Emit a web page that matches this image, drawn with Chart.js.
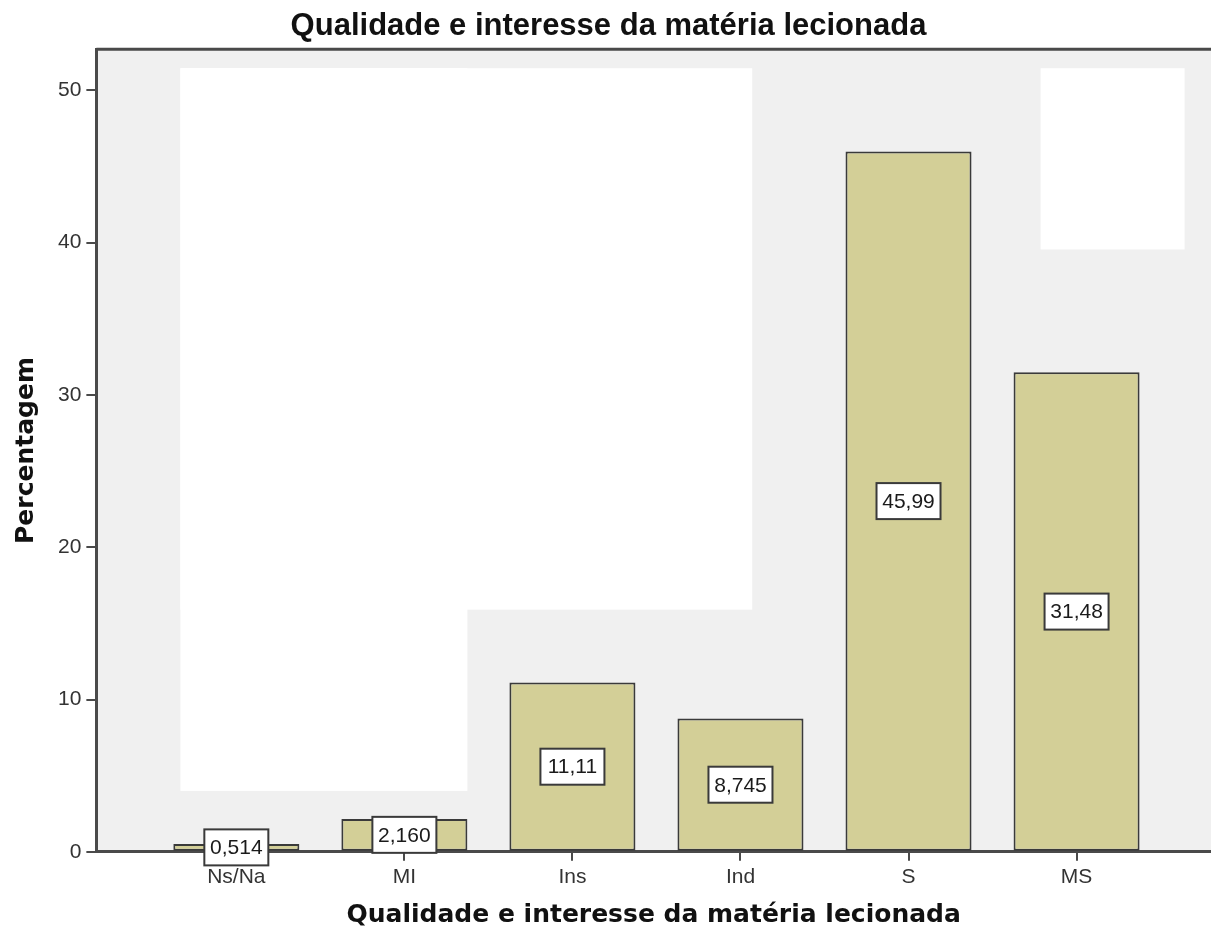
<!DOCTYPE html>
<html>
<head>
<meta charset="utf-8">
<script src="https://cdn.jsdelivr.net/npm/chart.js@4"></script>
<style>
  body { margin: 0; background: #fff; }
  #wrap { width: 1211px; height: 942px; }
</style>
</head>
<body>
<div id="wrap"><canvas id="chart"></canvas></div>
<script>
// --- Data ---
const categories = ['Ns/Na', 'MI', 'Ins', 'Ind', 'S', 'MS'];
const percentages = [0.514, 2.160, 11.11, 8.745, 45.99, 31.48];
const valueLabels = ['0,514', '2,160', '11,11', '8,745', '45,99', '31,48'];
const yTicks = [0, 10, 20, 30, 40, 50];

// white blank panels in the picture, in data units {x0, x1, y0, y1}
const blankPanels = [
    { x0: -0.333, x1: 3.07, y0: 15.9, y1: 51.45 },
    { x0: -0.333, x1: 1.375, y0: 4.0, y1: 51.45 },
    { x0: 4.786, x1: 5.643, y0: 39.55, y1: 51.45 }
];

const barFill = '#d3cf97';
const axisColor = '#4a4a4a';

// plot background, blank panels and top frame line
const backdropPlugin = {
    id: 'backdrop',
    beforeDraw(chart) {
        const { ctx, chartArea, scales } = chart;
        ctx.save();
        ctx.fillStyle = '#f0f0f0';
        ctx.fillRect(chartArea.left, chartArea.top, chartArea.right - chartArea.left, chartArea.bottom - chartArea.top);
        ctx.fillStyle = '#ffffff';
        blankPanels.forEach(p => {
            const x0 = scales.x.getPixelForValue(p.x0);
            const x1 = scales.x.getPixelForValue(p.x1);
            const y0 = scales.y.getPixelForValue(p.y0);
            const y1 = scales.y.getPixelForValue(p.y1);
            ctx.fillRect(x0, y1, x1 - x0, y0 - y1);
        });
        ctx.strokeStyle = axisColor;
        ctx.lineWidth = 3;
        ctx.beginPath();
        ctx.moveTo(chartArea.left, chartArea.top);
        ctx.lineTo(chartArea.right, chartArea.top);
        ctx.stroke();
        ctx.restore();
    }
};

// boxed value labels in the middle of each bar
const boxLabelPlugin = {
    id: 'boxLabels',
    afterDatasetsDraw(chart) {
        const { ctx } = chart;
        const meta = chart.getDatasetMeta(0);
        ctx.save();
        ctx.font = '21px "Liberation Sans", Arial, sans-serif';
        ctx.textAlign = 'center';
        ctx.textBaseline = 'middle';
        meta.data.forEach((bar, i) => {
            const cx = bar.x;
            const cy = (bar.y + bar.base) / 2;
            const w = 64, h = 36;
            ctx.fillStyle = '#ffffff';
            ctx.fillRect(cx - w / 2, cy - h / 2, w, h);
            ctx.strokeStyle = '#3a3a3a';
            ctx.lineWidth = 2;
            ctx.strokeRect(cx - w / 2, cy - h / 2, w, h);
            ctx.fillStyle = '#1a1a1a';
            ctx.fillText(valueLabels[i], cx, cy + 1);
        });
        ctx.restore();
    }
};

const ctx = document.getElementById('chart').getContext('2d');
new Chart(ctx, {
    type: 'bar',
    data: {
        datasets: [{
            data: percentages.map((v, i) => ({ x: i, y: v })),
            backgroundColor: barFill,
            borderColor: '#3a3a3a',
            borderWidth: 2,
            borderSkipped: false,
            barPercentage: 0.75,
            categoryPercentage: 1
        }]
    },
    options: {
        responsive: true,
        maintainAspectRatio: false,
        animation: false,
        layout: { padding: { left: 6, right: 0, top: 4, bottom: 12 } },
        plugins: {
            legend: { display: false },
            tooltip: { enabled: false },
            title: {
                display: true,
                text: 'Qualidade e interesse da matéria lecionada',
                color: '#111',
                font: { family: '"Liberation Sans", Arial, sans-serif', size: 31, weight: 'bold' },
                padding: { top: 4, bottom: 4 }
            }
        },
        scales: {
            x: {
                type: 'linear',
                min: -0.833,
                max: 5.8,
                offset: false,
                afterBuildTicks: axis => { axis.ticks = categories.map((c, i) => ({ value: i })); },
                border: { display: true, color: axisColor, width: 3 },
                grid: { display: true, offset: false, drawOnChartArea: false, drawTicks: true, tickLength: 9, color: axisColor, lineWidth: 2 },
                ticks: {
                    autoSkip: false,
                    maxRotation: 0,
                    color: '#333',
                    padding: 4,
                    font: { family: '"Liberation Sans", Arial, sans-serif', size: 21 },
                    callback: v => categories[v] ?? ''
                },
                title: {
                    display: true,
                    text: 'Qualidade e interesse da matéria lecionada',
                    color: '#111',
                    font: { family: '"DejaVu Sans", sans-serif', size: 25, weight: 'bold' },
                    padding: { top: 6, bottom: 0 }
                }
            },
            y: {
                min: 0,
                max: 52.7,
                afterBuildTicks: axis => { axis.ticks = yTicks.map(v => ({ value: v })); },
                border: { display: true, color: axisColor, width: 3 },
                grid: { display: true, drawOnChartArea: false, drawTicks: true, tickLength: 10, color: axisColor, lineWidth: 2 },
                ticks: {
                    color: '#333',
                    padding: 5,
                    font: { family: '"Liberation Sans", Arial, sans-serif', size: 21 }
                },
                title: {
                    display: true,
                    text: 'Percentagem',
                    color: '#111',
                    font: { family: '"DejaVu Sans", sans-serif', size: 25, weight: 'bold' },
                    padding: { top: 5, bottom: 12 }
                }
            }
        }
    },
    plugins: [backdropPlugin, boxLabelPlugin]
});
</script>
</body>
</html>
